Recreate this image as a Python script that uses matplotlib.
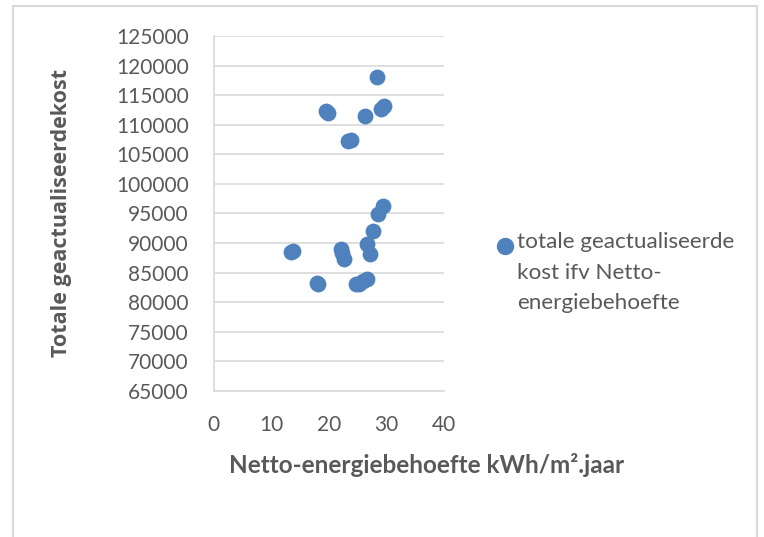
import matplotlib
matplotlib.use("Agg")
import matplotlib.pyplot as plt
from matplotlib.patches import Rectangle

# netto-energiebehoefte (kWh/m².jaar) en totale geactualiseerde kost (EUR)
netto_energie = [28.4, 19.5, 19.8, 26.3, 29.1, 29.6, 23.4, 23.8,
                 29.4, 28.5, 27.7, 26.7, 27.2, 13.4, 13.8,
                 22.1, 22.3, 22.6, 17.9, 18.1, 24.7, 25.2, 26.0, 26.7]
totale_kost = [118000, 112300, 112000, 111500, 112700, 113100, 107300, 107500,
               96300, 94900, 92100, 89900, 88100, 88500, 88600,
               89000, 88300, 87300, 83200, 83000, 83000, 83100, 83500, 83900]

x_ticks = [0, 10, 20, 30, 40]
y_ticks = list(range(65000, 125001, 5000))

reeks_naam = "totale geactualiseerde\nkost ifv Netto-\nenergiebehoefte"
x_titel = "Netto-energiebehoefte kWh/m².jaar"
y_titel = "Totale geactualiseerdekost"

blauw = "#4F81BD"
tekst = "#595959"
raster = "#D9D9D9"

plt.rcParams["font.family"] = ["Lato", "DejaVu Sans"]

fig = plt.figure(figsize=(7.64, 5.37), dpi=100)
ax = fig.add_axes([0.280, 0.272, 0.301, 0.661])

ax.scatter(netto_energie, totale_kost, s=130, color=blauw, linewidths=0, zorder=3)

ax.set_xlim(0, 40)
ax.set_ylim(65000, 125000)
ax.set_xticks(x_ticks)
ax.set_yticks(y_ticks)
ax.tick_params(length=0, labelsize=15, colors=tekst)
ax.tick_params(axis="x", pad=17)
ax.tick_params(axis="y", pad=18)

ax.grid(axis="y", color=raster, linewidth=1.2)
ax.set_axisbelow(True)
for kant in ["top", "right"]:
    ax.spines[kant].set_visible(False)
ax.spines["left"].set_color(raster)
ax.spines["bottom"].set_color(raster)
ax.spines["left"].set_linewidth(1.2)
ax.spines["bottom"].set_linewidth(1.2)

# titels van de assen
fig.text(427 / 764, 1 - 465 / 537, x_titel, ha="center", va="center",
         fontsize=17.5, fontweight="bold", color=tekst)
fig.text(62 / 764, 1 - 213 / 537, y_titel, ha="center", va="center",
         rotation=90, fontsize=15.5, fontweight="bold", color=tekst,
         family=["Open Sans", "DejaVu Sans"])

# legende rechts van de grafiek
fig.text(517 / 764, 1 - 232 / 537, reeks_naam, ha="left", va="top",
         fontsize=16.2, color=tekst, linespacing=1.66)
fig.add_artist(plt.Line2D([505 / 764], [1 - 246 / 537], marker="o",
                          markersize=11.5, color=blauw, linestyle="none",
                          transform=fig.transFigure))

# kader rond de grafiek
fig.add_artist(Rectangle((12.5 / 764, -0.05), (757 - 12.5) / 764, 1.05 - 6 / 537,
                         fill=False, edgecolor=raster, linewidth=1.5,
                         transform=fig.transFigure))

fig.savefig("out.png", dpi=100)
